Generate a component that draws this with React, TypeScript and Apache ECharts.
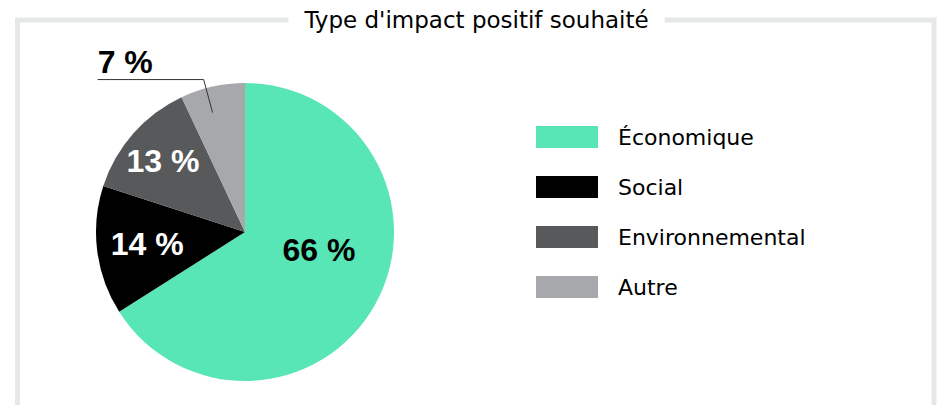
import React, { useEffect, useRef } from "react";
import * as echarts from "echarts";

const titleText = "Type d'impact positif souhaité";
const categories = ["Économique", "Social", "Environnemental", "Autre"];
const values = [66, 14, 13, 7];
const colors = ["#58e6b6", "#000000", "#58595b", "#a7a8ab"];
const labelColors = ["#000000", "#ffffff", "#ffffff", "#000000"];
// per-label nudges (px) from the default inside position
const labelNudges = [
  [6, -19],
  [-21, 2],
  [-24, -20],
  [0, 0],
];

const CX = 245;
const CY = 232;
const R = 149;

export default function App() {
  const ref = useRef<HTMLDivElement>(null);
  useEffect(() => {
    if (!ref.current) return;
    const chart = echarts.init(ref.current, undefined, { renderer: "svg" });
    const total = values.reduce((a, b) => a + b, 0);
    const midAngle = (i: number) => {
      let before = 0;
      for (let k = 0; k < i; k++) before += values[k];
      const frac = (before + values[i] / 2) / total;
      return frac * Math.PI * 2; // clockwise from top
    };
    const labelStyle = {
      fontFamily: "Liberation Sans",
      fontWeight: "bold",
      fontSize: 32,
      formatter: (p: any) => p.value + " %",
    };

    const mainData = categories.map((name, i) => ({
      name,
      value: values[i],
      itemStyle: { color: colors[i] },
      label: { show: i !== 3, position: "inside", color: labelColors[i] },
      labelLine: { show: false },
    }));

    const overlayData = categories.map((name, i) => ({
      name,
      value: values[i],
      itemStyle: { color: "rgba(0,0,0,0)" },
      label: { show: i === 3, position: "outside", color: labelColors[i] },
      labelLine: {
        show: i === 3,
        lineStyle: { color: "#333333", width: 1 },
      },
    }));

    chart.setOption({
      animation: false,
      graphic: [
        {
          type: "rect",
          shape: { x: 17.5, y: 20, width: 916.5, height: 420 },
          style: { fill: "none", stroke: "#e6e7e8", lineWidth: 5 },
          z: 0,
        },
        {
          type: "text",
          x: 476.5,
          y: 20,
          z: 10,
          style: {
            text: titleText,
            align: "center",
            verticalAlign: "middle",
            fontFamily: "DejaVu Sans",
            fontSize: 23,
            fill: "#000000",
            backgroundColor: "#ffffff",
            padding: [4, 16],
          },
        },
      ],
      legend: {
        orient: "vertical",
        left: 536,
        top: 126,
        padding: 0,
        itemWidth: 62,
        itemHeight: 22,
        itemGap: 28,
        icon: "rect",
        data: categories,
        textStyle: {
          fontFamily: "DejaVu Sans",
          fontSize: 22,
          color: "#000000",
          padding: [0, 0, 0, 15],
        },
        selectedMode: false,
      },
      series: [
        {
          type: "pie",
          z: 2,
          center: [CX, CY],
          radius: R,
          startAngle: 90,
          clockwise: true,
          silent: true,
          label: labelStyle,
          labelLayout: (params: any) => {
            const i = params.dataIndex;
            return { dx: labelNudges[i][0], dy: labelNudges[i][1] };
          },
          data: mainData,
        },
        {
          type: "pie",
          z: 3,
          center: [CX, CY],
          radius: R,
          startAngle: 90,
          clockwise: true,
          silent: true,
          legendHoverLink: false,
          label: labelStyle,
          labelLayout: (params: any) => {
            const i = params.dataIndex;
            if (i !== 3) return {};
            const a = midAngle(i) - 0.045;
            const dx = Math.sin(a);
            const dy = -Math.cos(a);
            const p0 = [CX + dx * R * 0.83, CY + dy * R * 0.83];
            const p1 = [CX + dx * R * 1.06, CY + dy * R * 1.06];
            const p2 = [p1[0] - 106, p1[1]];
            return {
              x: p2[0],
              y: p2[1] - 18,
              align: "left",
              verticalAlign: "middle",
              labelLinePoints: [p0, p1, p2],
            };
          },
          data: overlayData,
        },
      ],
    });
    return () => chart.dispose();
  }, []);
  return (
    <div
      ref={ref}
      style={{ position: "absolute", left: 0, top: 0, width: 938, height: 405 }}
    />
  );
}
